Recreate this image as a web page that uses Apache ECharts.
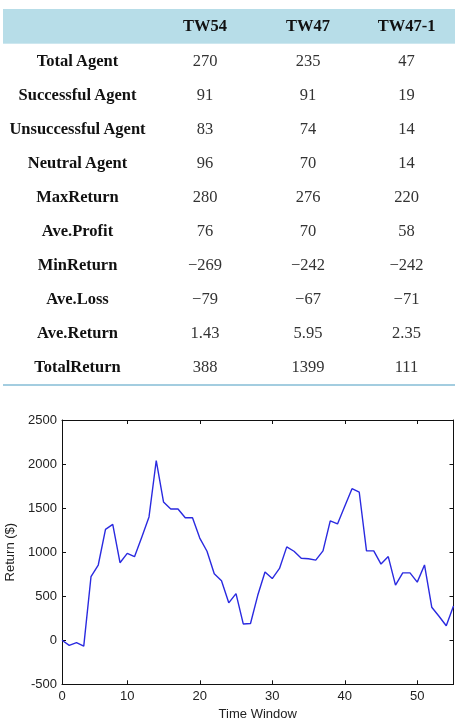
<!DOCTYPE html>
<html>
<head>
<meta charset="utf-8">
<script src="https://cdn.jsdelivr.net/npm/echarts@6/dist/echarts.min.js"></script>
<style>
  html, body { margin: 0; padding: 0; background: #fff; }
  #chart { position: absolute; left: 0; top: 0; width: 463px; height: 727px; }
  #tbl { position: absolute; left: 3px; top: 9px; border-collapse: collapse; font-family: "Liberation Serif", "Times New Roman", serif; font-size: 16.5px; z-index: 2; }
  #tbl td, #tbl th { padding: 0; text-align: center; height: 34px; line-height: 34px; white-space: nowrap; }
  #tbl thead th { background: #b7dde8; font-weight: bold; color: #111; border-bottom: 1px solid #cde7ef; height: 34px; }
  #tbl tbody th { font-weight: bold; color: #111; }
  #tbl tbody td { color: #333; }
  #tbl tbody tr:last-child th, #tbl tbody tr:last-child td { border-bottom: 2px solid #a3cde0; }
</style>
</head>
<body>
<table id="tbl"></table>
<div id="chart"></div>
<script>
// ---- table data ----
var tableHeaders = ['', 'TW54', 'TW47', 'TW47-1'];
var rowLabels = ['Total Agent', 'Successful Agent', 'Unsuccessful Agent', 'Neutral Agent', 'MaxReturn', 'Ave.Profit', 'MinReturn', 'Ave.Loss', 'Ave.Return', 'TotalReturn'];
var tw54 = [270, 91, 83, 96, 280, 76, -269, -79, 1.43, 388];
var tw47 = [235, 91, 74, 70, 276, 70, -242, -67, 5.95, 1399];
var tw47_1 = [47, 19, 14, 14, 220, 58, -242, -71, 2.35, 111];

// ---- chart data ----
var timeWindows = [1,2,3,4,5,6,7,8,9,10,11,12,13,14,15,16,17,18,19,20,21,22,23,24,25,26,27,28,29,30,31,32,33,34,35,36,37,38,39,40,41,42,43,44,45,46,47,48,49,50,51,52,53,54,55];
var returns = [0,-58,-28,-66,721,854,1259,1315,880,986,948,1170,1400,2040,1570,1490,1490,1390,1390,1160,1010,755,675,425,530,185,190,510,775,700,815,1060,1010,930,925,910,1015,1355,1320,1520,1720,1680,1015,1015,865,950,625,765,765,660,855,375,272,165,390];
var xTickValues = [10, 20, 30, 40, 50];
var yTicks = [-500, 0, 500, 1000, 1500, 2000, 2500];

// ---- build table ----
var colWidths = [149, 106, 100, 97];
var fmt = function (v) { return String(v).replace('-', '\u2212'); };
var tbl = document.getElementById('tbl');
var html = '<thead><tr>';
tableHeaders.forEach(function (h, i) { html += '<th style="width:' + colWidths[i] + 'px">' + h + '</th>'; });
html += '</tr></thead><tbody>';
rowLabels.forEach(function (lab, i) {
  html += '<tr><th>' + lab + '</th><td>' + fmt(tw54[i]) + '</td><td>' + fmt(tw47[i]) + '</td><td>' + fmt(tw47_1[i]) + '</td></tr>';
});
html += '</tbody>';
tbl.innerHTML = html;

// ---- chart ----
var chart = echarts.init(document.getElementById('chart'), null, { renderer: 'canvas' });
var xMin = timeWindows[0], xMax = timeWindows[timeWindows.length - 1];
var font = { fontFamily: 'Liberation Sans, Arial, sans-serif', fontSize: 13, color: '#222' };
var axisLineStyle = { color: '#111', width: 1 };
var option = {
  animation: false,
  grid: { left: 62, right: 9.5, top: 420, bottom: 42.7, containLabel: false, outerBoundsMode: 'none' },
  xAxis: [
    {
      type: 'value', min: xMin, max: xMax, position: 'bottom',
      name: 'Time Window', nameLocation: 'middle', nameGap: 24,
      nameTextStyle: font,
      axisLine: { show: true, onZero: false, lineStyle: axisLineStyle },
      axisTick: { show: true, inside: true, length: 4, customValues: xTickValues, lineStyle: axisLineStyle },
      axisLabel: Object.assign({ margin: 6, customValues: [xMin].concat(xTickValues),
        formatter: function (v) { return v === xMin ? '0' : String(v); } }, font),
      splitLine: { show: false }
    },
    {
      type: 'value', min: xMin, max: xMax, position: 'top',
      axisLine: { show: true, onZero: false, lineStyle: axisLineStyle },
      axisTick: { show: true, inside: true, length: 4, customValues: xTickValues, lineStyle: axisLineStyle },
      axisLabel: { show: false },
      splitLine: { show: false }
    }
  ],
  yAxis: [
    {
      type: 'value', min: yTicks[0], max: yTicks[yTicks.length - 1], interval: 500, position: 'left',
      name: 'Return ($)', nameLocation: 'middle', nameGap: 44, nameRotate: 90,
      nameTextStyle: font,
      axisLine: { show: true, onZero: false, lineStyle: axisLineStyle },
      axisTick: { show: true, inside: true, length: 4, lineStyle: axisLineStyle },
      axisLabel: Object.assign({ margin: 5, formatter: function (v) { return String(v); } }, font),
      splitLine: { show: false }
    },
    {
      type: 'value', min: yTicks[0], max: yTicks[yTicks.length - 1], interval: 500, position: 'right',
      axisLine: { show: true, onZero: false, lineStyle: axisLineStyle },
      axisTick: { show: true, inside: true, length: 4, lineStyle: axisLineStyle },
      axisLabel: { show: false },
      splitLine: { show: false }
    }
  ],
  series: [{
    type: 'line',
    xAxisIndex: 0, yAxisIndex: 0,
    data: timeWindows.map(function (t, i) { return [t, returns[i]]; }),
    showSymbol: false,
    lineStyle: { color: '#2a2ae0', width: 1.4 },
    itemStyle: { color: '#2a2ae0' }
  }]
};
chart.setOption(option);
</script>
</body>
</html>
